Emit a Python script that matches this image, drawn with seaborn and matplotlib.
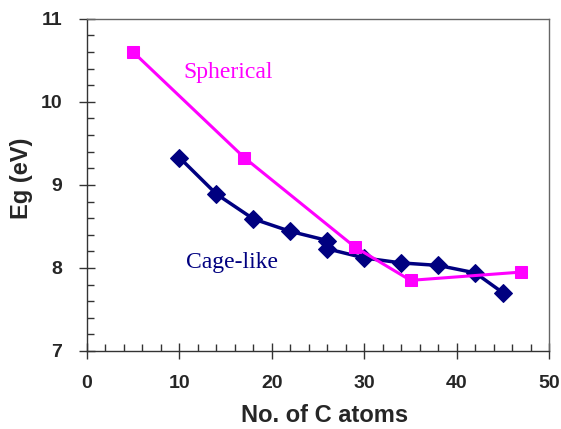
import matplotlib
matplotlib.use("Agg")
import matplotlib.pyplot as plt
import seaborn as sns
import pandas as pd
from matplotlib.ticker import MultipleLocator

sns.set_style("white")
plt.rcParams['font.family'] = ['Liberation Sans', 'DejaVu Sans']

# Data
sph_x = [5, 17, 29, 35, 47]
sph_y = [10.6, 9.33, 8.25, 7.85, 7.95]
cage_x = [10, 14, 18, 22, 26, 26, 30, 34, 38, 42, 45]
cage_y = [9.33, 8.89, 8.59, 8.44, 8.33, 8.23, 8.12, 8.06, 8.03, 7.94, 7.70]

sph = pd.DataFrame({"n": sph_x, "eg": sph_y})
cage = pd.DataFrame({"n": cage_x, "eg": cage_y})

fig = plt.figure(figsize=(5.61, 4.29), dpi=100)
ax = fig.add_axes([0.155, 0.182, 0.824, 0.774])

sns.lineplot(data=cage, x="n", y="eg", ax=ax, sort=False, estimator=None,
             color="#000080", lw=2.5, marker="D", markersize=9,
             markeredgecolor="#000080")
sns.lineplot(data=sph, x="n", y="eg", ax=ax, sort=False, estimator=None,
             color="#FF00FF", lw=2.2, marker="s", markersize=9,
             markeredgecolor="#FF00FF")

ax.set_xlim(0, 50)
ax.set_ylim(7, 11)
ax.xaxis.set_major_locator(MultipleLocator(10))
ax.xaxis.set_minor_locator(MultipleLocator(2))
ax.yaxis.set_major_locator(MultipleLocator(1))
ax.yaxis.set_minor_locator(MultipleLocator(0.2))
ax.tick_params(which="major", direction="inout", length=12, width=1, color="#333333",
               labelsize=14)
ax.tick_params(axis="x", which="major", pad=11)
ax.tick_params(axis="y", which="major", pad=12)
ax.tick_params(which="minor", direction="in", length=5, width=1, color="#333333")
ax.tick_params(axis="x", which="both", bottom=True)
ax.tick_params(axis="y", which="both", left=True)
for lab in ax.get_xticklabels() + ax.get_yticklabels():
    lab.set_fontweight("bold")

for s in ax.spines.values():
    s.set_color("#666666")
    s.set_linewidth(1)
ax.spines["left"].set_color("#333333")
ax.spines["bottom"].set_color("#333333")

ax.set_xlabel("No. of C atoms", fontsize=17, fontweight="bold")
ax.set_ylabel("Eg (eV)", fontsize=17, fontweight="bold")
ax.xaxis.set_label_coords(0.513, -0.16)
ax.yaxis.set_label_coords(-0.117, 0.52)

ax.text(15.3, 10.36, "Spherical", color="#FF00FF", fontsize=17,
        family="Liberation Serif", ha="center", va="center")
ax.text(15.7, 8.07, "Cage-like", color="#000080", fontsize=17,
        family="Liberation Serif", ha="center", va="center")

fig.savefig("out.png", dpi=100)
